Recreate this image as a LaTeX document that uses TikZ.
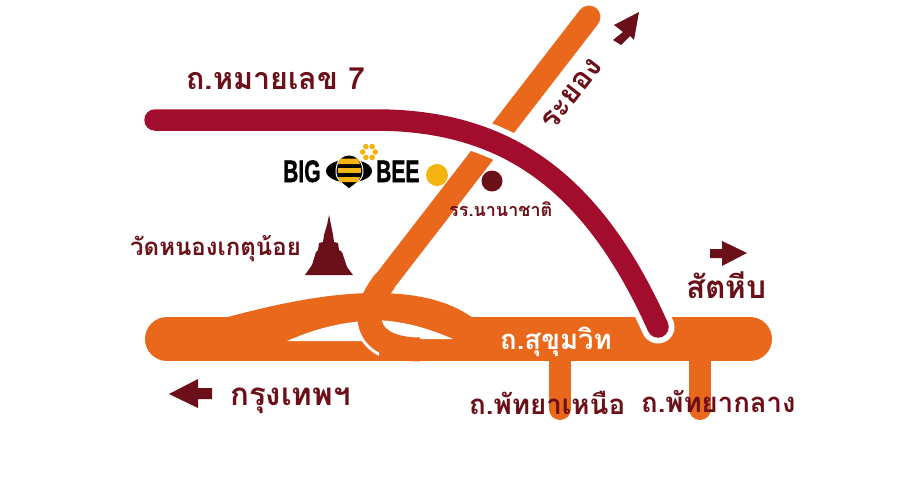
\documentclass[tikz,border=0pt]{standalone}
\usepackage{fontspec}
\setmainfont{Liberation Sans}
\newfontfamily\thai[Script=Thai]{Loma}
\newfontfamily\logofont[FakeBold=1.6]{Liberation Sans Bold}
\definecolor{roadorange}{HTML}{E9681C}
\definecolor{roadred}{HTML}{A30D2D}
\definecolor{maroon}{HTML}{6B1018}
\definecolor{beeyellow}{HTML}{F5B30F}
\tikzset{
  thailabel/.style={font=\thai\bfseries, text=maroon, inner sep=0pt, anchor=base west},
  road/.style={draw=roadorange, line width=#1, line cap=round},
  logotext/.style={font=\logofont\fontsize{31}{31}\selectfont, text=black, inner sep=0pt, anchor=base west, xscale=.68}
}
\begin{document}
\begin{tikzpicture}[x=1pt,y=-1pt]
\useasboundingbox (0,0) rectangle (900,493);
% stubs
\draw[road=22] (560,345) -- (560,409);
\draw[road=22] (700,345) -- (700,409);
% main road
\draw[road=44] (167,339) -- (750,339);
% upper branch
\fill[roadorange] (228,317) .. controls (280,303) and (330,293) .. (375,293) .. controls (415,293) and (448,300) .. (473,318) -- (473,340) -- (287,340) -- cycle;
% holes
\fill[white] (287,341) .. controls (310,331) and (335,323) .. (365,321) -- (365,341) -- cycle;
\fill[white] (375,320) .. controls (405,321) and (430,329) .. (453,339) -- (375,339) -- cycle;
% halo beside the loop
\begin{scope}
\clip (340,340) rectangle (379,362);
\draw[white,line width=30] (385,281) .. controls (372,298) and (368,310) .. (370,322) .. controls (373,340) and (392,349.5) .. (420,349.5);
\end{scope}
% diagonal road with loop
\draw[road=23] (589,17) -- (385,281);
\draw[draw=roadorange,line width=24] (385,281) .. controls (372,298) and (368,310) .. (370,322) .. controls (373,340) and (392,349.5) .. (420,349.5);
% red road
\draw[white,line width=33,line cap=round] (155,120) -- (375,120) .. controls (500,120) and (590,175) .. (658,327);
\draw[roadred,line width=21.5,line cap=round] (155,120) -- (375,120) .. controls (500,120) and (590,175) .. (658,327);
% dots
\fill[beeyellow] (437,175) circle (11);
\fill[maroon] (492,181) circle (10.5);
% logo
\node[logotext] (big) at (283,182) {BIG};
\node[logotext] (bee) at (376,182) {BEE};
\fill[black] (349,171) ellipse (23 and 11.5);
\draw[white,line width=1,fill=black] (349,155) .. controls (358,155) and (363,163) .. (363,172) .. controls (363,180) and (355,184) .. (349,189) .. controls (343,184) and (336,180) .. (336,172) .. controls (336,163) and (340,155) .. (349,155) -- cycle;
\fill[beeyellow] (340,158.5) -- (358,158.5) -- (360,164) -- (338,164) -- cycle;
\fill[beeyellow] (337.5,168) rectangle (360.5,173);
\fill[beeyellow] (338,177) -- (360,177) -- (358,182) -- (340,182) -- cycle;
\foreach \a in {0,60,...,300} \fill[beeyellow] (369,152) ++(\a:6.3) circle (2.8);
% stupa
\fill[maroon] (329,215) -- (331,225) -- (333,235) -- (334,242) -- (338,243) -- (339,250) -- (342,252) -- (347,267) -- (353,275) -- (305,275) -- (312,265) -- (316,252) -- (318,250) -- (319,243) -- (323,242) -- (324,235) -- (327,225) -- cycle;
% arrows
\fill[maroon] (169,394) -- (198,379) -- (198,388) -- (212,388) -- (212,399) -- (198,399) -- (198,408) -- cycle;
\fill[maroon] (747,253) -- (722,241) -- (722,249) -- (710,249) -- (710,258) -- (722,258) -- (722,266) -- cycle;
\fill[maroon] (639,12) -- (614,25) -- (623,32) -- (613,40) -- (621,45) -- (630,36) -- (634,40) -- cycle;
% labels
\node[thailabel,font=\thai\bfseries\fontsize{30.5}{30}\selectfont] (t1) at (186,89) {ถ.หมายเลข 7};
\node[thailabel,font=\thai\bfseries\fontsize{18}{18}\selectfont] (t2) at (449,216) {รร.นานาชาติ};
\node[thailabel,font=\thai\bfseries\fontsize{24}{24}\selectfont] (t3) at (130,255) {วัดหนองเกตุน้อย};
\node[thailabel,font=\thai\bfseries\fontsize{31.3}{31}\selectfont] (t4) at (230,405) {กรุงเทพฯ};
\node[thailabel,font=\thai\bfseries\fontsize{31.6}{31}\selectfont] (t5) at (686,298) {สัตหีบ};
\node[thailabel,font=\thai\bfseries\fontsize{27.7}{27}\selectfont] (t6) at (469,414) {ถ.พัทยาเหนือ};
\node[thailabel,font=\thai\bfseries\fontsize{27.5}{27}\selectfont] (t7) at (641,412) {ถ.พัทยากลาง};
\node[thailabel,text=white,font=\thai\bfseries\fontsize{27.5}{27}\selectfont] (t8) at (500,349) {ถ.สุขุมวิท};
\node[thailabel,font=\thai\bfseries\fontsize{30}{30}\selectfont,rotate=52] (t9) at (553,132) {ระยอง};
\end{tikzpicture}
\end{document}
